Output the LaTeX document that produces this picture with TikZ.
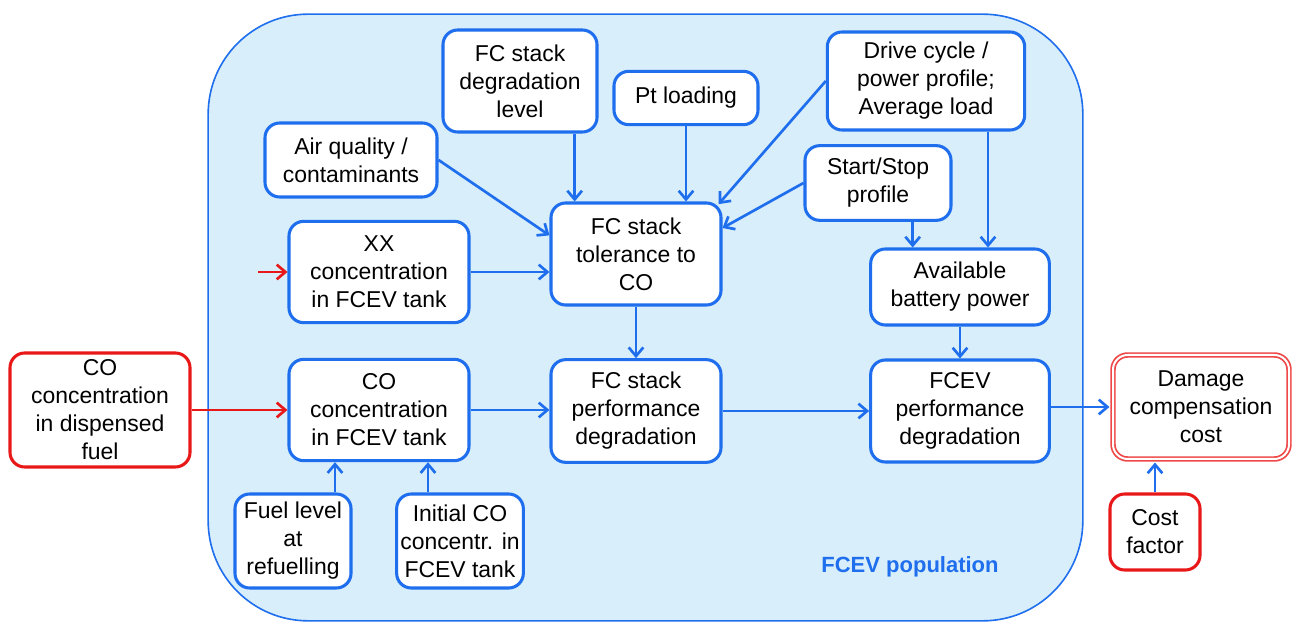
\documentclass[tikz,border=0pt]{standalone}
\usepackage{fontspec}
\setmainfont{Liberation Sans}
\usetikzlibrary{arrows.meta,calc}
\definecolor{bl}{RGB}{30,110,238}
\definecolor{bgfill}{RGB}{216,238,250}
\definecolor{rd}{RGB}{232,24,24}
\definecolor{lrd}{RGB}{238,72,72}
\begin{document}
\begin{tikzpicture}[x=0.75pt,y=-0.75pt,
  box/.style={draw=bl, line width=2.3pt, rounded corners=11pt, fill=white, align=center,
    font=\fontsize{17.2}{21}\selectfont, inner sep=0pt},
  rbox/.style={box, draw=rd},
  arr/.style={draw=bl, line width=2pt, -{Straight Barb[length=6.5pt,width=11pt,line width=2pt]}},
  rarr/.style={arr, draw=rd}]
\useasboundingbox (0,0) rectangle (1293,623);
% population area
\node[draw=bl, line width=1.2pt, fill=bgfill, rounded corners=75pt, minimum width=656pt, minimum height=455pt, inner sep=0pt] (pop) at (645.5,317.5) {};
\node[font=\fontsize{16.5}{19}\selectfont\bfseries, text=bl] (poplabel) at (910,567) {FCEV population};
% nodes
\node[rbox, minimum width=135pt, minimum height=85.5pt] (codisp) at (100,410) {CO\\concentration\\in dispensed\\fuel};
\node[box, minimum width=135pt, minimum height=76pt] (xx) at (379,272) {XX\\concentration\\in FCEV tank};
\node[box, minimum width=135pt, minimum height=76pt] (cotank) at (379,410) {CO\\concentration\\in FCEV tank};
\node[box, minimum width=87pt, minimum height=70.5pt] (fuel) at (293,541) {Fuel level\\at\\refuelling};
\node[box, minimum width=95pt, minimum height=70.5pt] (init) at (460,541) {Initial CO\\concentr. in\\FCEV tank};
\node[box, minimum width=129pt, minimum height=55.5pt] (air) at (351,160) {Air quality /\\contaminants};
\node[box, minimum width=115.5pt, minimum height=76.5pt] (deg) at (520,81) {FC stack\\degradation\\level};
\node[box, minimum width=108pt, minimum height=40pt] (pt) at (686,98) {Pt loading};
\node[box, minimum width=148pt, minimum height=73.5pt] (drive) at (926,81) {Drive cycle /\\power profile;\\Average load};
\node[box, minimum width=109.5pt, minimum height=56pt] (ss) at (878,183) {Start/Stop\\profile};
\node[box, minimum width=127.5pt, minimum height=76.5pt] (tol) at (636,254) {FC stack\\tolerance to\\CO};
\node[box, minimum width=127.5pt, minimum height=77pt] (fcperf) at (636,411) {FC stack\\performance\\degradation};
\node[box, minimum width=134pt, minimum height=57pt] (bat) at (960,287) {Available\\battery power};
\node[box, minimum width=134pt, minimum height=76.5pt] (fcevperf) at (960,411) {FCEV\\performance\\degradation};
\node[box, draw=lrd, line width=1.3pt, double=white, double distance=1.5pt, minimum width=132pt, minimum height=78pt] (dmg) at (1201,407) {Damage\\compensation\\cost};
\node[rbox, minimum width=67.5pt, minimum height=57pt] (cost) at (1155,532) {Cost\\factor};
\coordinate (xin) at (258,272);
% arrows
\draw[rarr] (codisp.east) -- (cotank.west);
\draw[rarr] (xin) -- (xx.west);
\draw[arr] (xx.east) -- (xx.east -| tol.west);
\draw[arr] (air.east) -- ([yshift=14pt]tol.west);
\draw[arr] ([xshift=41pt]deg.south) -- ([xshift=41pt]deg.south |- tol.north);
\draw[arr] (pt.south) -- (pt.south |- tol.north);
\draw[arr] (drive.west) -- ([xshift=-3pt,yshift=-2pt]tol.north east);
\draw[arr] (ss.west) -- ([yshift=19.5pt]tol.east);
\draw[arr] ([xshift=26pt]ss.south) -- ([xshift=26pt]ss.south |- bat.north);
\draw[arr] ([xshift=46.5pt]drive.south) -- ([xshift=46.5pt]drive.south |- bat.north);
\draw[arr] (tol.south) -- (fcperf.north);
\draw[arr] (cotank.east) -- (cotank.east -| fcperf.west);
\draw[arr] (fcperf.east) -- (fcperf.east -| fcevperf.west);
\draw[arr] (bat.south) -- (fcevperf.north);
\draw[arr] (fcevperf.east |- dmg.west) -- ([xshift=-2pt]dmg.west);
\draw[arr] ([xshift=31.5pt]fuel.north) -- ([xshift=31.5pt]fuel.north |- cotank.south);
\draw[arr] ([xshift=-24pt]init.north) -- ([xshift=-24pt]init.north |- cotank.south);
\draw[arr] (cost.north) -- ([yshift=-2pt]cost.north |- dmg.south);
\end{tikzpicture}
\end{document}
